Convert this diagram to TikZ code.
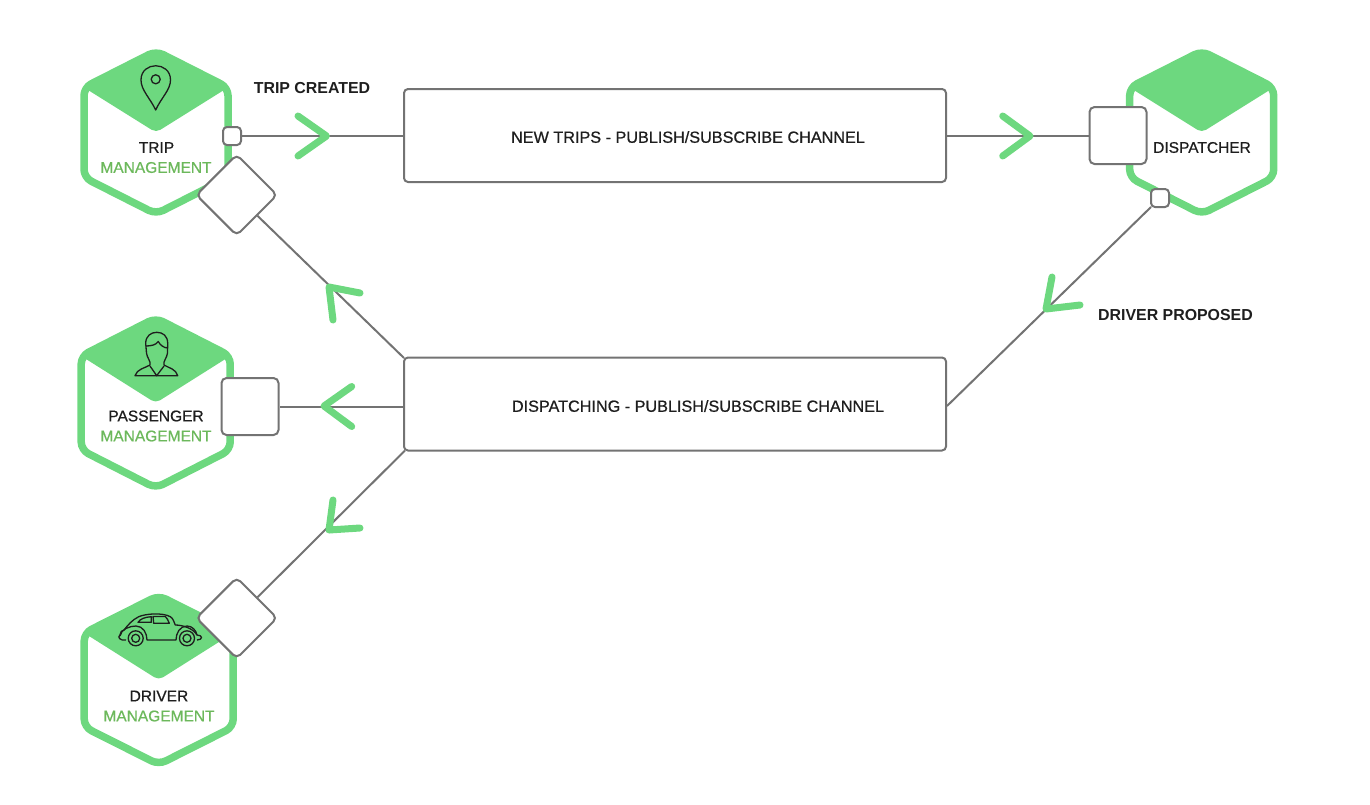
\documentclass[tikz,border=0pt]{standalone}
\usepackage{fontspec}
\setmainfont{Liberation Sans}
\newfontfamily\medfont[FakeBold=0.7]{Liberation Sans}
\usetikzlibrary{positioning}
\definecolor{hexgreen}{HTML}{6DD87F}
\definecolor{textgreen}{HTML}{6CB85B}
\definecolor{portgrey}{HTML}{737373}
\definecolor{inkdark}{HTML}{1E1E1E}
\tikzset{
  hexcell/.pic={
    \fill[hexgreen,rounded corners=5pt] (-\hw,-\hs) -- (0,-\hh) -- (\hw,-\hs) -- (0,0) -- cycle;
    \draw[hexgreen,line width=7.5pt,rounded corners=8pt] (0,-\hh) -- (\hw,-\hs) -- (\hw,\hs) -- (0,\hh) -- (-\hw,\hs) -- (-\hw,-\hs) -- cycle;
  },
  namelabel/.style={font=\medfont\fontsize{15.5}{18}\selectfont,text=inkdark,inner sep=0pt},
  grouplabel/.style={font=\medfont\fontsize{15.5}{18}\selectfont,text=textgreen,inner sep=0pt},
  eventlabel/.style={font=\bfseries\fontsize{15.9}{18}\selectfont,text=inkdark,inner sep=0pt},
  channel/.style={draw=portgrey,line width=2pt,fill=white,rounded corners=4pt,minimum width=542pt,minimum height=93pt},
  channellabel/.style={font=\medfont\fontsize{16.2}{18}\selectfont,text=inkdark,inner sep=0pt},
  bigport/.style={draw=portgrey,line width=2pt,fill=white,rounded corners=5pt,minimum size=57pt,inner sep=0pt},
  smallport/.style={draw=portgrey,line width=2pt,fill=white,rounded corners=4pt,minimum size=18pt,inner sep=0pt},
  wire/.style={draw=portgrey,line width=2pt},
  chevron/.style={draw=hexgreen,line width=7pt,line cap=round,line join=round},
  icon/.style={draw=inkdark,line width=1.3pt,line join=round},
}
\begin{document}
\begin{tikzpicture}[x=1pt,y=-1pt]
  \useasboundingbox (0,0) rectangle (1370,804);

  % hexagons
  \foreach \cx/\cy/\hw/\hh/\hs in {156/132.5/72/81.5/45, 1201.7/132.5/72/81.5/45, 155.7/403/74.5/85/47, 158.7/680/74.5/84.5/47}
    \pic at (\cx,\cy) {hexcell};

  % icons
  \draw[icon] (155.7,110) .. controls (150,98) and (141,90) .. (141,80) .. controls (141,61) and (170.5,61) .. (170.5,80) .. controls (170.5,90) and (161,98) .. (155.7,110) -- cycle;
  \draw[icon] (155.7,79.3) circle (4.5pt);
  % person
  \draw[icon] (135,375.7) .. controls (137,369) and (145,368) .. (150,365) .. controls (151,361) and (147,358) .. (146.5,353) -- (145.7,343.3) .. controls (145.7,336) and (151,332.3) .. (156.7,332.3) .. controls (163,332.3) and (167.7,336) .. (167.7,343.3) -- (167.5,353) .. controls (167,358) and (163,361) .. (164,365) .. controls (169,368) and (176,369) .. (177.7,375.7) -- cycle;
  \draw[icon] (145.7,346) .. controls (151,346) and (156,345) .. (158.3,341.5) .. controls (160,345) and (164,348) .. (167.7,348);
  \draw[icon] (150,366) -- (156.7,375.7) -- (164,366);
  % car
  \draw[icon] (126,640) .. controls (120,641) and (117,637) .. (120,635) .. controls (120,632) and (122,630) .. (124,630) .. controls (128,625) and (132,620) .. (138.7,616.7) .. controls (146,613.5) and (163,612.5) .. (170.3,616.7) .. controls (173,618) and (174,622) .. (175.3,625) .. controls (182,625) and (193,628) .. (197,635) .. controls (203,635) and (203,640) .. (197,640);
  \draw[icon] (120,636) .. controls (121,629) and (130,626) .. (136,626) .. controls (143,626) and (147,633) .. (147,640) -- (176,640) .. controls (176,633) and (180,626) .. (187,626) .. controls (192,626) and (196,630) .. (197,635);
  \draw[icon] (138,622.3) .. controls (140,619) and (145,617) .. (151.3,616.7) -- (151.3,622.3) -- cycle;
  \draw[icon] (153,616.5) -- (165.3,616.5) .. controls (167,618) and (168,620) .. (169.3,623.3) -- (153.7,623.3) -- cycle;
  \foreach \wx in {135.7,187} {
    \draw[icon] (\wx,638.3) circle (7.5pt);
    \draw[icon] (\wx,638.3) circle (4pt);
  }

  % hexagon names
  \node[namelabel] (tripname) at (156.5,147.5) {TRIP};
  \node[grouplabel] (tripgroup) at (156,167.5) {MANAGEMENT};
  \node[namelabel] (dispname) at (1202,147.5) {DISPATCHER};
  \node[namelabel] (passname) at (156,416) {PASSENGER};
  \node[grouplabel] (passgroup) at (156,436) {MANAGEMENT};
  \node[namelabel] (drivname) at (159,696) {DRIVER};
  \node[grouplabel] (drivgroup) at (159,716) {MANAGEMENT};

  % channels
  \node[channel] (newtrips) at (675,135.5) {};
  \node[channel] (dispatching) at (675,404) {};
  \node[channellabel] (newtripstext) at (688,137) {NEW TRIPS - PUBLISH/SUBSCRIBE CHANNEL};
  \node[channellabel] (dispatchingtext) at (698,406) {DISPATCHING - PUBLISH/SUBSCRIBE CHANNEL};

  % ports
  \node[smallport] (porttrip) at (232,136) {};
  \node[bigport,rotate=45] (porttripin) at (236.7,195) {};
  \node[bigport] (portpass) at (250,406.5) {};
  \node[bigport,rotate=45] (portdriv) at (236.7,618) {};
  \node[bigport] (portdisp) at (1118,135.5) {};
  \node[smallport] (portdispout) at (1160,198) {};

  % connectors
  \draw[wire] (porttrip) -- (porttrip -| newtrips.west);
  \draw[wire] (newtrips) -- (portdisp);
  \draw[wire] ([xshift=1pt,yshift=1pt]portdispout.south west) -- ([yshift=-2pt]dispatching.east);
  \draw[wire] ([xshift=1pt,yshift=-1.5pt]dispatching.north west) -- (porttripin.south);
  \draw[wire] (portpass -| dispatching.west) -- (portpass);
  \draw[wire] ([xshift=2pt,yshift=1pt]dispatching.south west) -- (portdriv.east);

  % chevrons
  \foreach \armone/\tip/\armtwo in {
      {(298,116)}/{(326.5,136)}/{(298,156)},
      {(1002.7,116)}/{(1030,136)}/{(1002.7,156)},
      {(351.7,386.5)}/{(324,406)}/{(351.7,426.5)},
      {(360,293)}/{(329,287)}/{(333,320)},
      {(360,528)}/{(329,530)}/{(333,500)},
      {(1052,277)}/{(1046,309)}/{(1080,305)}}
    \draw[chevron] \armone -- \tip -- \armtwo;

  % event labels
  \node[eventlabel] (tripcreated) at (312,88.5) {TRIP CREATED};
  \node[eventlabel] (driverproposed) at (1175.5,315.5) {DRIVER PROPOSED};
\end{tikzpicture}
\end{document}
